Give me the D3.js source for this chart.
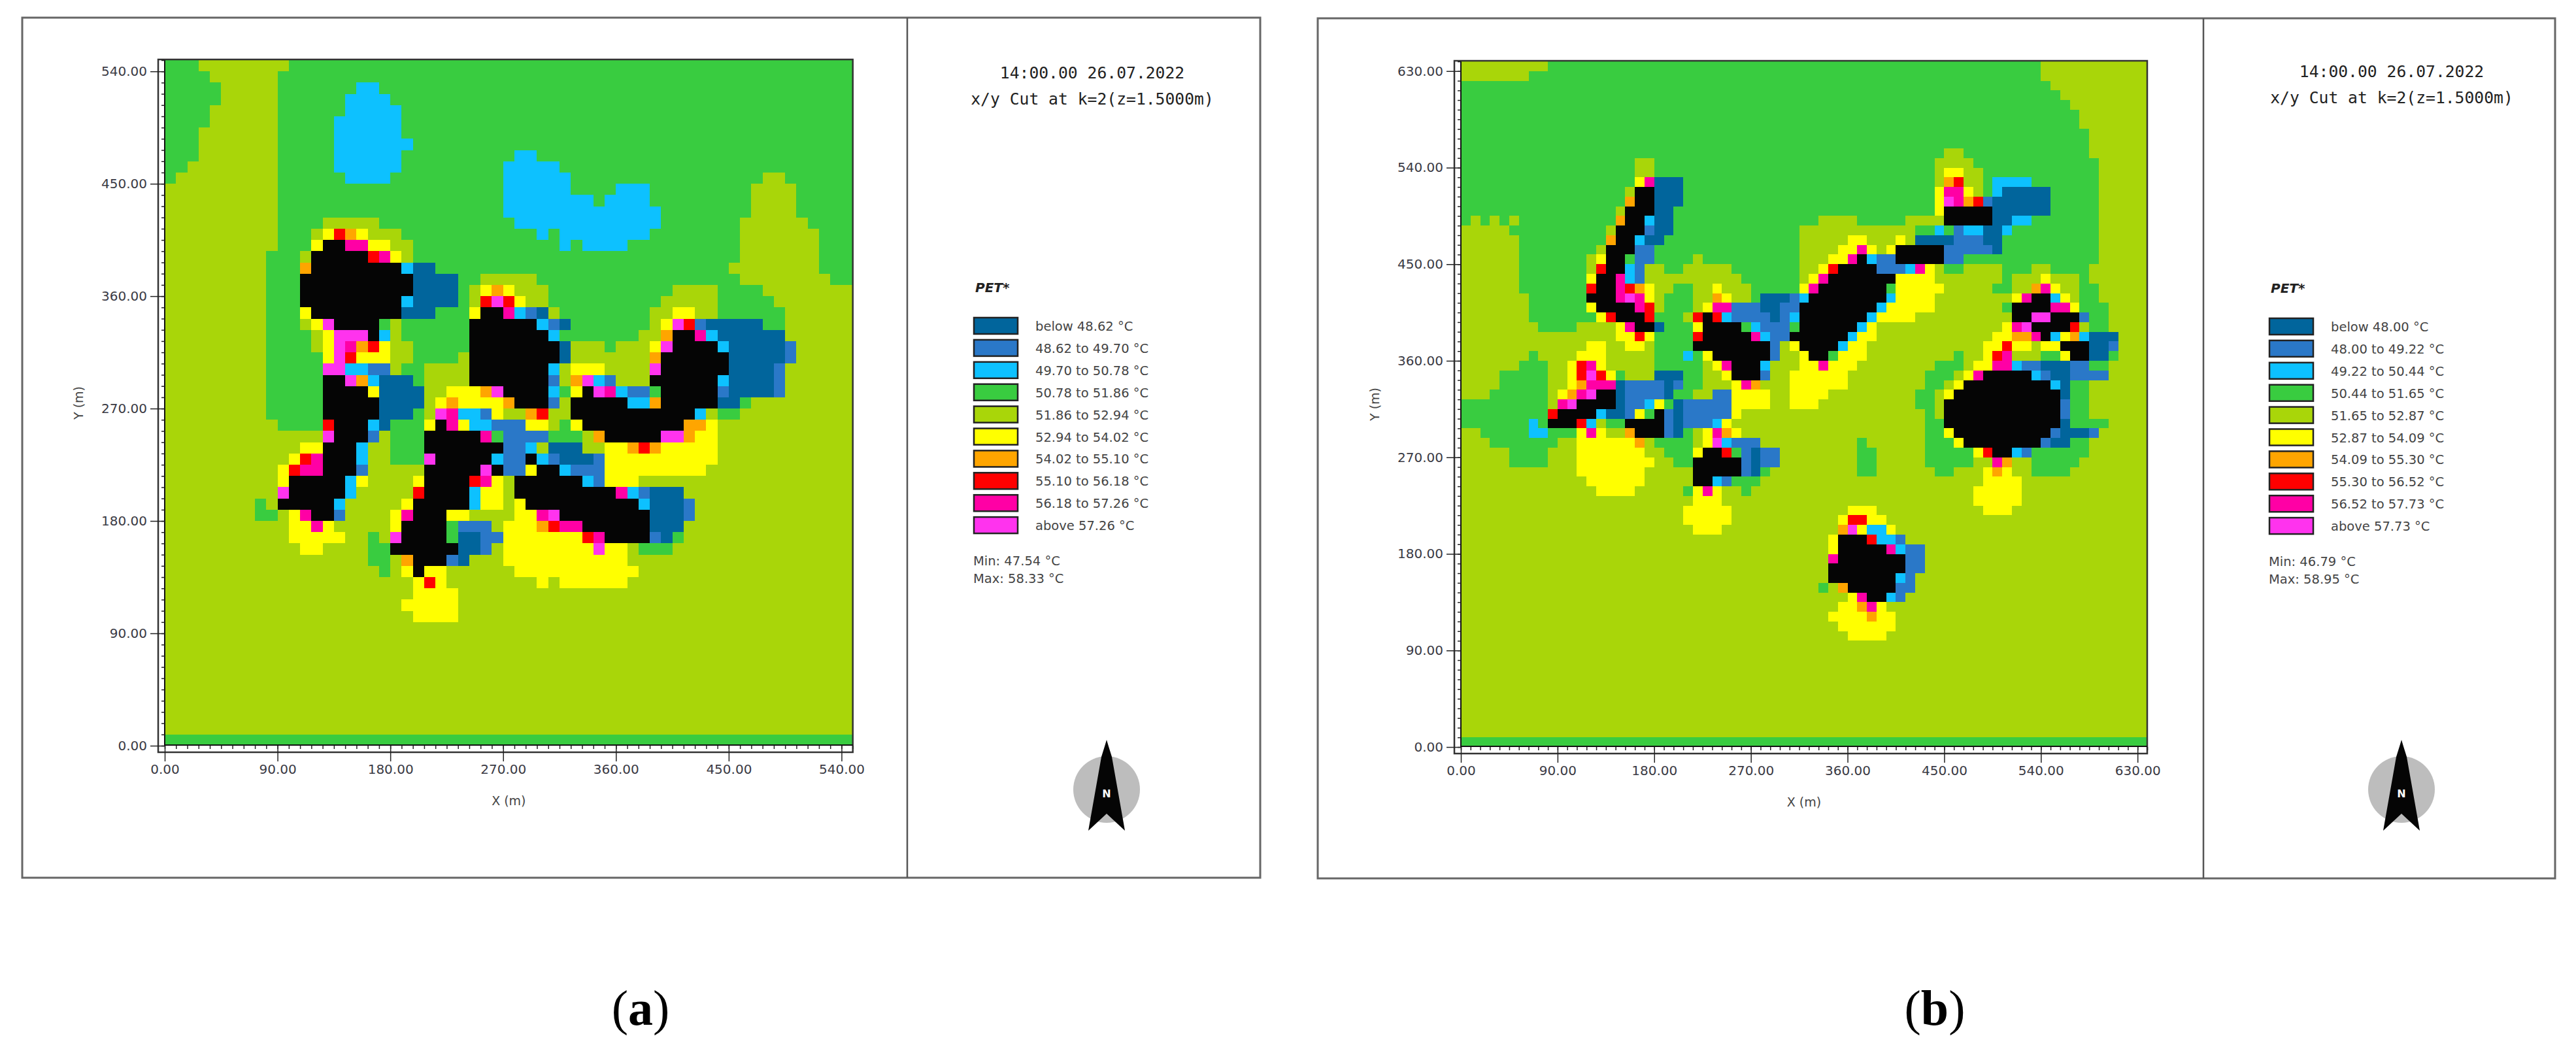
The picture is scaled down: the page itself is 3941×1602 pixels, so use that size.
<!DOCTYPE html>
<html>

<head>
    <meta charset="utf-8">
    <title>PET x/y cut</title>
    <style type="text/css">
    body {
        margin: 0;
        background: #fff;
    }

    text {
        font-family: "DejaVu Sans", sans-serif;
        fill: #444;
    }

    .tick text {
        font-size: 20px;
        fill: #3a3a44;
    }

    .title {
        font-family: "DejaVu Sans Mono", monospace;
        font-size: 24.7px;
        fill: #222;
    }

    .legend {
        font-size: 19.5px;
    }

    .pet {
        font: italic bold 20px "DejaVu Sans", sans-serif;
        fill: #222;
    }

    .caption {
        font-family: "Liberation Serif", serif;
        font-size: 76px;
        fill: #000;
    }
    </style>
</head>

<body>
    <svg class="chart" width="3941" height="1602"></svg>
    <script src="https://d3js.org/d3.v7.min.js"></script>
    <script type="text/javascript">
    // colour classes, same order as the legend (k = building, not in the legend)
    var classCodes = ["b", "u", "c", "g", "l", "y", "o", "r", "p", "m", "k"];
    var classColors = ["#01659c", "#2a78c8", "#0dc1ff", "#39cc40", "#a9d609", "#ffff00", "#ffa500", "#ff0000", "#ff00a5", "#ff33ee", "#050505"];

    var titleLines = ["14:00.00 26.07.2022", "x/y Cut at k=2(z=1.5000m)"];
    var cellSize = 9; // metres

    var xTicksA = [0, 90, 180, 270, 360, 450, 540];
    var xTicksB = [0, 90, 180, 270, 360, 450, 540, 630];

    var legendA = ["below 48.62 °C", "48.62 to 49.70 °C", "49.70 to 50.78 °C", "50.78 to 51.86 °C", "51.86 to 52.94 °C", "52.94 to 54.02 °C", "54.02 to 55.10 °C", "55.10 to 56.18 °C", "56.18 to 57.26 °C", "above 57.26 °C"];
    var legendB = ["below 48.00 °C", "48.00 to 49.22 °C", "49.22 to 50.44 °C", "50.44 to 51.65 °C", "51.65 to 52.87 °C", "52.87 to 54.09 °C", "54.09 to 55.30 °C", "55.30 to 56.52 °C", "56.52 to 57.73 °C", "above 57.73 °C"];
    var minMaxA = ["Min: 47.54 °C", "Max: 58.33 °C"];
    var minMaxB = ["Min: 46.79 °C", "Max: 58.95 °C"];

    // each row: "row: col+class col+class ..." a class runs until the next col. Rows not listed are all lime.
    var gridA = [
        "60: 0g 3l 11g",
        "59: 0g 4l 10g",
        "58: 0g 5l 10g 17c 19g",
        "57: 0g 5l 10g 16c 20g",
        "56: 0g 4l 10g 16c 21g",
        "55: 0g 4l 10g 15c 21g",
        "54: 0g 3l 10g 15c 21g",
        "53: 0g 3l 10g 15c 22g",
        "52: 0g 3l 10g 15c 21g 31c 33g",
        "51: 0g 2l 10g 15c 21g 30c 35g",
        "50: 0g 1l 10g 16c 20g 30c 36g 53l 55g",
        "49: 0l 10g 30c 36g 40c 43g 52l 56g",
        "48: 0l 10g 30c 38g 39c 43g 52l 56g",
        "47: 0l 10g 30c 44g 52l 56g",
        "46: 0l 10g 14l 19g 31c 44g 51l 57g",
        "45: 0l 10g 13l 14y 15r 16o 17y 18l 21g 33c 34g 35c 43g 51l 58g",
        "44: 0l 10g 13y 14k 16p 18y 20l 22g 35c 36g 37c 41g 51l 58g",
        "43: 0l 9g 12l 13k 18r 19p 20y 21l 22g 51l 58g",
        "42: 0l 9g 12o 13k 21c 22b 24g 50l 58g",
        "41: 0l 9g 12k 22b 26g 28l 33g 51l 59g",
        "40: 0l 9g 12k 22b 26g 27l 28y 29o 30y 31l 34g 45l 49g 53l",
        "39: 0l 9g 12k 21c 22b 26g 27l 28r 29m 30r 31y 32l 34g 44l 49g 54l",
        "38: 0l 9g 12y 13k 21b 24g 27y 28k 30p 31c 32u 33b 34l 35g 43l 45y 47l 49g 55l",
        "37: 0l 9g 12l 13y 14m 15k 19g 20l 21g 27k 33c 34u 35b 36g 43l 44y 45m 46r 47u 48b 53g 55l",
        "36: 0l 9g 13l 14y 15m 18k 19c 20l 21g 27k 34c 35g 42l 44o 45k 47p 48c 49b 55l",
        "35: 0l 9g 13l 14y 15m 16p 17o 18r 19y 20l 22g 27k 35b 36l 39g 40l 43y 44m 45k 49c 50b 55u 56l",
        "34: 0l 9g 14y 15m 16r 17y 20l 22g 26l 27k 35b 36l 43o 44k 50b 55u 56l",
        "33: 0l 9g 14m 16c 18u 20l 21g 23l 27k 34c 35l 36y 39l 43m 44k 50b 54u 55l",
        "32: 0l 9g 14k 16m 17o 18c 19b 22g 23l 27k 34u 35l 36o 37m 38c 39u 40l 43k 49c 50b 54u 55l",
        "31: 0l 9g 14k 18y 19b 23l 25y 28o 29m 30k 34c 35g 36y 37k 38m 39p 40c 41u 43g 44k 49u 50b 54u 55l",
        "30: 0l 9g 14k 19b 23l 24y 25o 26y 30o 31k 34u 35l 36k 41c 43o 44k 49b 51g 52l",
        "29: 0l 9g 14k 19b 22g 23l 24m 25p 26c 28u 29y 30l 32o 33r 34l 36k 47c 48l 49g 51l",
        "28: 0l 10g 14r 15k 18c 19b 20g 23y 24k 25p 26y 27c 29u 32y 34l 35g 36y 37k 46o 48y 49l",
        "27: 0l 14m 15k 18u 19l 20g 23k 28p 29g 30u 34g 37l 38o 39k 44m 46o 47y 49l",
        "26: 0l 12y 14k 17c 18l 20g 23k 30u 32c 33l 34b 37l 39y 41o 42r 43o 44y 49l",
        "25: 0l 11y 12r 13p 14k 17c 18l 20g 23m 24k 29c 30u 32k 33c 34u 35b 38u 39y 49l",
        "24: 0l 10y 11r 12p 14k 17u 18l 23k 28m 29k 30u 32y 33k 35c 36u 39y 48l",
        "23: 0l 10y 11k 16c 17y 18l 22y 23k 27r 28p 29y 30l 31k 37c 38u 39y 42l",
        "22: 0l 10m 11k 16c 17l 22r 23k 27c 28y 30l 31k 40p 41c 42u 43b 46l",
        "21: 0l 8g 9l 10k 15c 16l 21y 22k 27c 28y 30l 31y 32k 42c 43b 46u 47l",
        "20: 0l 8g 10l 11y 12p 13k 15u 16l 20y 21p 22k 25y 27l 31y 33p 34m 35k 43b 46u 47l",
        "19: 0l 11y 13p 14y 15l 20y 21k 25g 26u 29l 30y 33o 34r 35p 37k 43b 46l",
        "18: 0l 11y 16l 18g 19l 20m 21k 25g 26b 28u 30y 37r 38p 39k 43u 44b 45g 46l",
        "17: 0l 12y 14l 18g 20k 26b 28u 29l 30y 38m 39y 41l 42g 45l",
        "16: 0l 18g 20l 21o 22k 25u 26b 27l 30y 41l",
        "15: 0l 19g 20l 21y 22k 23y 25l 31y 42l",
        "14: 0l 22y 23r 24y 25l 33y 34l 35y 41l",
        "13: 0l 22y 26l",
        "12: 0l 21y 26l",
        "11: 0l 22y 26l",
        "0: 0g"
    ];

    var gridB = [
        "70: 0l 9g 60l",
        "69: 0l 7g 60l",
        "68: 0g 61l",
        "67: 0g 62l",
        "66: 0g 63l",
        "65: 0g 64l",
        "64: 0g 64l",
        "63: 0g 65l",
        "62: 0g 65l",
        "61: 0g 50l 52g 65l",
        "60: 0g 18l 20g 49l 53g 66l",
        "59: 0g 18l 20g 49l 50y 52l 54g 66l",
        "58: 0g 18y 19p 20b 23g 49l 50o 51r 52l 54g 55c 59g 66l",
        "57: 0g 17l 18k 20b 23g 49y 50p 52y 53l 54g 55c 56b 61g 66l",
        "56: 0g 17o 18k 20b 23g 49y 50m 51p 52o 53r 54u 55b 61g 66l",
        "55: 0g 16l 17k 20b 22g 49y 50k 55b 61g 66l",
        "54: 0g 1l 2g 3l 4g 5l 6g 16o 17k 19c 20b 22g 37l 41g 46l 50k 55b 57c 59g 66l",
        "53: 0l 5g 15l 16k 19u 20b 22g 35l 47g 49c 50g 51u 52c 54b 56c 57g 66l",
        "52: 0l 6g 15o 16k 18c 19b 21g 35l 40y 42l 45y 46l 47b 51u 54b 56g 66l",
        "51: 0l 6g 14l 15k 18u 20g 35l 39y 41p 42y 43l 44y 45k 50u 55b 56g 66l",
        "50: 0l 6g 13l 14y 15k 17g 18u 20g 24l 25g 35l 38y 40p 41k 42c 43u 45k 50u 52g 66l",
        "49: 0l 6g 13l 14r 15k 17c 18u 19l 21g 23l 28g 35l 37y 38r 39k 43u 46c 47p 48y 49l 50g 52l 56g 59l 61g 65l",
        "48: 0l 6g 13y 14k 16p 17c 18u 19l 29g 35l 36y 37p 38k 45y 49l 56g 57l 60y 61l 64g 65l",
        "47: 0l 6g 13r 14k 16p 17r 18o 19y 20l 22g 24l 26y 27l 30g 35y 36p 37k 44g 45y 50l 55g 57l 59o 60p 61y 62l 64g 66l",
        "46: 0l 7g 13k 16p 17m 18p 19y 20l 21g 24l 26o 27y 28l 30g 31b 34u 35c 36k 44c 45y 49l 57y 58p 59k 61c 62y 63l 64g 66l",
        "45: 0l 7g 13y 14k 18p 19r 20l 21g 24l 25y 26p 28u 31b 33u 35k 43c 44y 49l 56g 57k 61p 63y 64g 67l",
        "44: 0l 7g 14y 15r 16k 19r 20g 23l 24r 25k 26r 27c 28u 32b 33u 34c 35k 42c 43y 47l 57k 59m 61k 64u 65g 67l",
        "43: 0l 8g 12l 16y 17p 18k 20b 21g 24y 25k 29g 30c 31u 34g 35k 41c 42y 43l 56y 57p 58m 59k 63r 64l 65g 67l",
        "42: 0l 16y 18r 19y 20g 24r 25k 30p 31c 32u 34k 40c 41y 43l 55y 57o 59p 60k 61c 62y 63o 64c 65b 68l",
        "41: 0l 13y 15l 17y 19l 20g 24k 32u 33l 34y 35k 39c 40y 42l 54y 56r 57y 59l 60y 62k 65b 67u 68l",
        "40: 0l 7g 8l 12y 15l 20g 23c 24g 25y 26k 32u 33l 35y 36k 38g 39y 42l 51g 52l 54y 55r 56p 57l 60g 62y 63k 65b 67g 68l",
        "39: 0l 6g 9l 11y 12r 13p 14y 15l 20g 25l 26y 27p 28k 31c 32l 35y 37p 38y 41l 49g 52l 53y 55p 57c 58u 60b 63u 65g 67l",
        "38: 0l 4g 9l 11y 12r 13m 14r 15y 16g 17l 20b 23g 25l 27y 28k 31u 32l 34y 40l 48g 51l 52y 53p 54k 59c 60u 61b 63u 67l",
        "37: 0l 4g 9l 11y 12o 13p 16b 17u 21b 22u 23g 25l 28y 29p 30o 31l 34y 40l 48g 50l 51y 52k 61c 62b 63g 65l",
        "36: 0l 3g 9l 10y 11o 12p 13m 14k 16b 17u 21b 22g 24l 26u 28y 32l 34y 38l 47g 49l 50y 51k 62b 63g 65l",
        "35: 0g 9l 10p 11m 12k 16b 17u 19c 20y 21g 22b 23u 28y 32l 34y 37l 47g 49l 50k 62u 63g 65l",
        "34: 0g 9r 10k 14c 15b 17u 18y 19g 20k 21u 22b 23u 28y 29l 48g 49l 50k 62u 63g 65l",
        "33: 0g 7c 8g 9k 12r 13c 14l 15g 17k 21u 22b 23u 26c 27y 28l 48g 50k 62b 63g 67l",
        "32: 0l 2g 7c 9g 12y 13p 14y 15l 17o 18k 21u 22b 23g 24l 25y 26p 27o 28y 29l 48g 50y 51k 61u 62b 65u 66l",
        "31: 0l 3g 10l 12y 18o 19l 20g 24l 25y 26m 27c 28u 31l 41g 42l 48g 51y 52k 60u 61b 63g 65l",
        "30: 0l 5g 9l 12y 19l 21g 24y 25k 27r 28g 29u 30b 31u 33l 41g 43l 48g 53y 54r 55k 57c 58u 59g 65l",
        "29: 0l 5g 9l 12y 20l 22g 24k 29u 30b 31u 33l 41g 43l 48g 53l 55p 56o 57l 59g 64l",
        "28: 0l 12y 19l 24k 29u 30b 31g 32l 41g 43l 49g 51l 54y 55o 56y 57l 59g 63l",
        "27: 0l 13y 19l 24k 26c 27u 28g 31l 54y 58l",
        "26: 0l 14y 18l 23g 24y 25p 26y 27l 29g 30l 53y 58l",
        "25: 0l 24y 27l 53y 58l",
        "24: 0l 23y 28l 40y 43l 54y 57l",
        "23: 0l 23y 28l 39y 40r 42y 44l",
        "22: 0l 24y 27l 39o 40m 41y 42c 44y 45l",
        "21: 0l 38y 39k 42r 43c 45u 46l",
        "20: 0l 38y 39k 44p 45c 46u 48l",
        "19: 0l 38p 39k 46u 48l",
        "18: 0l 38k 46u 48l",
        "17: 0l 38k 45c 46u 47l",
        "16: 0l 37g 38l 39o 40k 45u 47l",
        "15: 0l 40y 41p 42k 44c 45u 46l",
        "14: 0l 39y 41o 42p 43y 44l",
        "13: 0l 38y 42o 43y 45l",
        "12: 0l 39y 45l",
        "11: 0l 40y 44l",
        "0: 0g"
    ];

    var svg = d3.select("svg");
    var color = d3.scaleOrdinal().domain(classCodes).range(classColors);
    var fmt = d3.format(".2f");

    // turn the row strings into runs {row, start, end, code}
    function parseGrid(grid, nCells) {
        var listed = {};
        grid.forEach(function(line) {
            var parts = line.split(": ");
            listed[+parts[0]] = parts[1].split(" ").map(function(t) {
                return { col: parseInt(t, 10), code: t.slice(-1) };
            });
        });
        var runs = [];
        d3.range(nCells).forEach(function(row) {
            var cells = listed[row] || [{ col: 0, code: "l" }];
            cells.forEach(function(c, i) {
                runs.push({
                    row: row,
                    start: c.col,
                    end: i < cells.length - 1 ? cells[i + 1].col : nCells,
                    code: c.code
                });
            });
        });
        return runs;
    }

    function drawPanel(p) {
        var g = svg.append("g");
        var maxM = p.nCells * cellSize;
        var x = d3.scaleLinear().domain([0, maxM]).range([p.left, p.right]);
        var y = d3.scaleLinear().domain([0, maxM]).range([p.bottom, p.top]);

        // outer frames
        g.append("rect")
            .attr("x", p.frame[0]).attr("y", p.frame[1])
            .attr("width", p.frame[2] - p.frame[0]).attr("height", p.frame[3] - p.frame[1])
            .attr("fill", "#fff").attr("stroke", "#666").attr("stroke-width", 3);
        g.append("line")
            .attr("x1", p.divider).attr("x2", p.divider)
            .attr("y1", p.frame[1]).attr("y2", p.frame[3])
            .attr("stroke", "#555").attr("stroke-width", 2.5);

        // cells
        g.append("g").selectAll("rect")
            .data(parseGrid(p.grid, p.nCells))
            .enter().append("rect")
            .attr("x", function(d) { return x(d.start * cellSize); })
            .attr("width", function(d) { return x(d.end * cellSize) - x(d.start * cellSize); })
            .attr("y", function(d) { return y((d.row + 1) * cellSize); })
            .attr("height", function(d) { return y(d.row * cellSize) - y((d.row + 1) * cellSize); })
            .attr("fill", function(d) { return color(d.code); })
            .attr("shape-rendering", "crispEdges");

        // strip around the plot that carries the minor ticks
        var strip = 10;
        g.append("rect")
            .attr("x", p.left - strip).attr("y", p.top - 1)
            .attr("width", p.right - p.left + strip).attr("height", p.bottom - p.top + strip + 1)
            .attr("fill", "none").attr("stroke", "#333").attr("stroke-width", 2.5);
        g.append("path")
            .attr("d", "M" + p.left + "," + p.top + "V" + (p.bottom - 1) + "H" + p.right)
            .attr("fill", "none").attr("stroke", "#111").attr("stroke-width", 2);

        var minor = d3.range(0, maxM + 1, cellSize);
        var xMinor = g.append("g").attr("transform", "translate(0," + p.bottom + ")")
            .call(d3.axisBottom(x).tickValues(minor).tickSize(5).tickFormat(""));
        var yMinor = g.append("g").attr("transform", "translate(" + p.left + ",0)")
            .call(d3.axisLeft(y).tickValues(minor).tickSize(5).tickFormat(""));
        xMinor.select(".domain").remove();
        yMinor.select(".domain").remove();

        var xAxis = g.append("g").attr("transform", "translate(0," + p.bottom + ")")
            .call(d3.axisBottom(x).tickValues(p.ticks).tickSize(24).tickPadding(5).tickFormat(fmt));
        var yAxis = g.append("g").attr("transform", "translate(" + p.left + ",0)")
            .call(d3.axisLeft(y).tickValues(p.ticks).tickSize(22).tickPadding(5).tickFormat(fmt));
        xAxis.select(".domain").remove();
        yAxis.select(".domain").remove();
        g.selectAll(".tick line").attr("stroke", "#222").attr("stroke-width", 1.5);

        g.append("text").attr("class", "legend")
            .attr("x", (x(0) + x(maxM)) / 2).attr("y", p.bottom + 91)
            .attr("text-anchor", "middle").style("font-size", "19px")
            .text("X (m)");
        g.append("text").attr("class", "legend")
            .attr("transform", "translate(" + (p.left - 125) + "," + ((y(0) + y(maxM)) / 2) + ") rotate(-90)")
            .attr("text-anchor", "middle").style("font-size", "19px")
            .text("Y (m)");

        // title block
        g.selectAll(".title")
            .data(titleLines)
            .enter().append("text")
            .attr("class", "title")
            .attr("x", p.titleX)
            .attr("y", function(d, i) { return p.titleY + i * 40; })
            .attr("text-anchor", "middle")
            .text(function(d) { return d; });

        // legend
        g.append("text").attr("class", "pet")
            .attr("x", p.legendX + 2).attr("y", p.legendY - 39)
            .text("PET*");
        var rows = g.selectAll(".legend-row")
            .data(p.legend)
            .enter().append("g")
            .attr("class", "legend-row")
            .attr("transform", function(d, i) { return "translate(" + p.legendX + "," + (p.legendY + i * 33.9) + ")"; });
        rows.append("rect")
            .attr("width", 67).attr("height", 25)
            .attr("fill", function(d, i) { return classColors[i]; })
            .attr("stroke", "#222").attr("stroke-width", 2.5);
        rows.append("text")
            .attr("class", "legend")
            .attr("x", 94).attr("y", 20)
            .text(function(d) { return d; });
        g.selectAll(".minmax")
            .data(p.minMax)
            .enter().append("text")
            .attr("class", "legend minmax")
            .attr("x", p.legendX - 1)
            .attr("y", function(d, i) { return p.legendY + 379 + i * 27; })
            .text(function(d) { return d; });

        // north arrow
        var n = g.append("g").attr("transform", "translate(" + p.northX + ",1208)");
        n.append("circle").attr("r", 51).attr("fill", "#bdbdbd");
        n.append("path")
            .attr("d", "M0,-76 L3,-66 L8,-50 L28,63 L0,37 L-28,63 L-8,-50 L-3,-66 Z")
            .attr("fill", "#050505");
        n.append("text")
            .attr("y", 12).attr("text-anchor", "middle")
            .style("font-size", "16px").style("font-weight", "bold").style("fill", "#fff")
            .text("N");

        // caption
        var cap = g.append("text").attr("class", "caption")
            .attr("x", p.captionX).attr("y", 1568).attr("text-anchor", "middle");
        cap.append("tspan").text("(");
        cap.append("tspan").style("font-weight", "bold").text(p.captionLetter);
        cap.append("tspan").text(")");
    }

    drawPanel({
        grid: gridA, nCells: 61, ticks: xTicksA, legend: legendA, minMax: minMaxA,
        left: 252, right: 1304.7, top: 92, bottom: 1141,
        frame: [34, 27, 1928, 1343], divider: 1388,
        titleX: 1671, titleY: 120, legendX: 1490, legendY: 486,
        northX: 1693, captionX: 980, captionLetter: "a"
    });

    drawPanel({
        grid: gridB, nCells: 71, ticks: xTicksB, legend: legendB, minMax: minMaxB,
        left: 2235, right: 3285, top: 94, bottom: 1143,
        frame: [2016, 28, 3909, 1344], divider: 3371,
        titleX: 3659, titleY: 118, legendX: 3472, legendY: 487,
        northX: 3674, captionX: 2960, captionLetter: "b"
    });
    </script>
</body>

</html>
